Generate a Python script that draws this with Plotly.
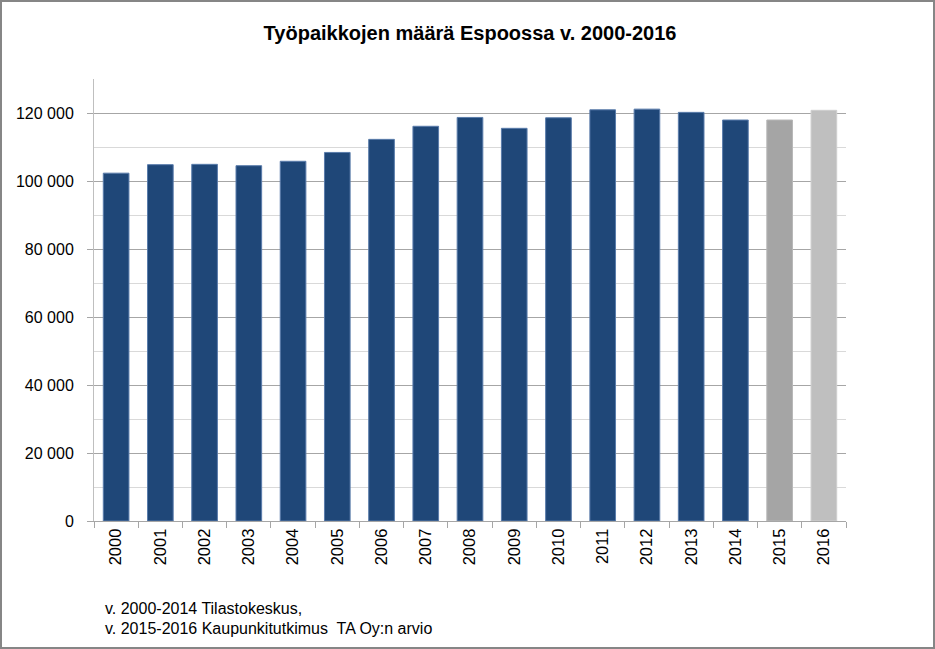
import plotly.graph_objects as go

years = [str(y) for y in range(2000, 2017)]
jobs = [102400, 104900, 105000, 104600, 105900, 108500, 112350, 116200, 118800,
        115600, 118700, 121050, 121250, 120300, 118050, 118050, 120900]
bar_colors = ["#1f4778"] * 15 + ["#a5a5a5", "#bfbfbf"]
line_colors = ["#5a7cab"] * 15 + ["#b8b8b8", "#cfcfcf"]

y_tickvals = [0, 20000, 40000, 60000, 80000, 100000, 120000]
y_ticktext = ["0", "20 000", "40 000", "60 000", "80 000", "100 000", "120 000"]
y_minorvals = [10000, 30000, 50000, 70000, 90000, 110000, 130000]

title_text = "Työpaikkojen määrä Espoossa v. 2000-2016"
note_lines = ["v. 2000-2014 Tilastokeskus,", "v. 2015-2016 Kaupunkitutkimus  TA Oy:n arvio"]

FONT = "Liberation Sans, Arial, sans-serif"

fig = go.Figure(go.Bar(
    x=years, y=jobs,
    marker=dict(color=bar_colors, line=dict(color=line_colors, width=1)),
    hoverinfo="x+y",
))

W, H = 935, 649
L, R, T, B = 94, 89, 79, 128
pw, ph = W - L - R, H - T - B

def px_x(px):
    return (px - L) / pw

def px_y(py):
    return (H - B - py) / ph

fig.update_layout(
    width=W, height=H, autosize=False,
    margin=dict(l=L, r=R, t=T, b=B),
    paper_bgcolor="white", plot_bgcolor="white",
    font=dict(family=FONT, size=16, color="#000000"),
    bargap=0.42,
    showlegend=False,
    title=dict(text="<b>" + title_text + "</b>", x=0.5, xref="paper", xanchor="center",
               y=1 - 33 / H, yanchor="middle",
               font=dict(family=FONT, size=20, color="#000000")),
    xaxis=dict(
        type="category",
        tickangle=-90,
        tickson="boundaries",
        ticks="outside", ticklen=6, tickcolor="#a6a6a6",
        showline=True, linecolor="#a6a6a6", linewidth=1,
        showgrid=False,
        tickfont=dict(family=FONT, size=16.5),
    ),
    yaxis=dict(
        range=[0, 130120],
        tickvals=y_tickvals, ticktext=y_ticktext,
        ticks="outside", ticklen=6, tickcolor="#a6a6a6",
        showline=True, linecolor="#bfbfbf", linewidth=1,
        showgrid=True, gridcolor="#a6a6a6", gridwidth=1,
        zeroline=False,
        ticklabelstandoff=10,
        minor=dict(tickvals=y_minorvals, showgrid=True, gridcolor="#d9d9d9", gridwidth=1),
        tickfont=dict(family=FONT, size=16),
    ),
    shapes=[dict(type="rect", xref="paper", yref="paper",
                 x0=px_x(1), x1=px_x(934), y0=px_y(648), y1=px_y(1),
                 line=dict(color="#868686", width=2), layer="above")],
    annotations=[
        dict(text=note_lines[0], xref="paper", yref="paper", x=px_x(103), y=px_y(608),
             xanchor="left", yanchor="middle", showarrow=False,
             font=dict(family=FONT, size=16, color="#000000")),
        dict(text=note_lines[1], xref="paper", yref="paper", x=px_x(103), y=px_y(628),
             xanchor="left", yanchor="middle", showarrow=False,
             font=dict(family=FONT, size=16, color="#000000")),
    ],
)

fig.write_html("out.html", config={"displayModeBar": False},
               post_script="document.body.style.margin='0px';")
